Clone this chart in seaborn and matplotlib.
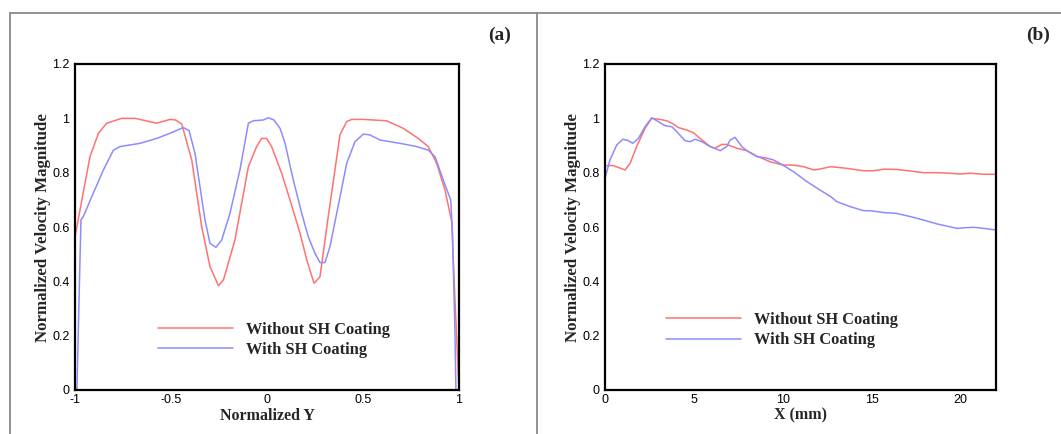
import numpy as np
import pandas as pd
import matplotlib
matplotlib.use("Agg")
import matplotlib.pyplot as plt
import seaborn as sns
from matplotlib.lines import Line2D

# ---------------- data ----------------
a_red_x = [-1.0, -0.922, -0.878, -0.835, -0.757, -0.687, -0.575, -0.505, -0.476, -0.444,
           -0.392, -0.340, -0.297, -0.253, -0.227, -0.167, -0.097, -0.054, -0.028, -0.002,
           0.024, 0.076, 0.12, 0.172, 0.207, 0.245, 0.276, 0.319, 0.380, 0.415, 0.441,
           0.502, 0.623, 0.710, 0.788, 0.840, 0.884, 0.927, 0.962, 0.979, 1.0]
a_red_y = [0.564, 0.859, 0.945, 0.982, 1.0, 1.0, 0.982, 0.996, 0.994, 0.979,
           0.847, 0.601, 0.454, 0.384, 0.405, 0.552, 0.822, 0.896, 0.926, 0.926,
           0.896, 0.798, 0.699, 0.577, 0.479, 0.393, 0.417, 0.638, 0.939, 0.988, 0.996,
           0.996, 0.991, 0.963, 0.926, 0.896, 0.834, 0.736, 0.620, 0.331, 0.0]

a_blue_x = [-0.99, -0.975, -0.969, -0.957, -0.905, -0.852, -0.80, -0.766, -0.661, -0.575,
            -0.505, -0.436, -0.406, -0.375, -0.349, -0.323, -0.297, -0.266, -0.236, -0.193,
            -0.141, -0.097, -0.071, -0.019, 0.007, 0.036, 0.068, 0.094, 0.137, 0.181,
            0.215, 0.25, 0.276, 0.302, 0.328, 0.363, 0.415, 0.458, 0.502, 0.536,
            0.589, 0.693, 0.780, 0.840, 0.875, 0.918, 0.957, 0.966, 0.979, 0.984]
a_blue_y = [0.0, 0.45, 0.626, 0.638, 0.724, 0.810, 0.883, 0.896, 0.908, 0.926,
            0.945, 0.966, 0.955, 0.871, 0.748, 0.626, 0.540, 0.525, 0.552, 0.650,
            0.810, 0.982, 0.991, 0.994, 1.002, 0.994, 0.963, 0.908, 0.773, 0.650,
            0.564, 0.503, 0.469, 0.469, 0.528, 0.650, 0.834, 0.914, 0.942, 0.939,
            0.920, 0.908, 0.896, 0.883, 0.859, 0.773, 0.699, 0.577, 0.209, 0.0]

b_red_x = [0.0, 0.47, 1.13, 1.41, 1.78, 2.25, 2.63, 3.1, 3.47, 3.85, 4.13, 4.6, 4.98,
           5.35, 5.92, 6.2, 6.57, 6.85, 7.42, 7.98, 8.54, 9.3, 10.05, 10.6, 11.17,
           11.74, 12.0, 12.7, 13.6, 14.55, 15.1, 15.7, 16.4, 17.2, 17.9, 18.7, 19.4,
           20.0, 20.56, 21.3, 22.0]
b_red_y = [0.826, 0.826, 0.810, 0.834, 0.896, 0.963, 1.0, 0.996, 0.991, 0.979, 0.966,
           0.957, 0.947, 0.926, 0.896, 0.890, 0.904, 0.904, 0.890, 0.881, 0.861, 0.840,
           0.828, 0.828, 0.822, 0.810, 0.812, 0.822, 0.816, 0.807, 0.807, 0.813, 0.812,
           0.806, 0.800, 0.800, 0.798, 0.795, 0.798, 0.794, 0.794]

b_blue_x = [0.0, 0.28, 0.66, 1.0, 1.31, 1.56, 1.88, 2.25, 2.63, 3.0, 3.38, 3.76, 4.04,
            4.5, 4.79, 5.07, 5.45, 5.92, 6.48, 6.85, 7.04, 7.32, 7.7, 7.98, 8.54, 9.0,
            9.48, 10.05, 10.6, 11.36, 12.1, 12.7, 13.05, 13.8, 14.55, 14.93, 15.7, 16.4,
            17.2, 17.9, 18.7, 19.4, 19.8, 20.2, 20.75, 21.3, 22.0]
b_blue_y = [0.779, 0.847, 0.902, 0.923, 0.918, 0.908, 0.926, 0.969, 1.002, 0.988, 0.973,
            0.969, 0.951, 0.918, 0.914, 0.923, 0.914, 0.896, 0.881, 0.896, 0.920, 0.930,
            0.896, 0.881, 0.859, 0.855, 0.847, 0.826, 0.804, 0.767, 0.736, 0.712, 0.693,
            0.675, 0.660, 0.660, 0.653, 0.650, 0.638, 0.626, 0.611, 0.601, 0.595, 0.597,
            0.599, 0.595, 0.589]

labels = ["Without SH Coating", "With SH Coating"]
panel_titles = ["(a)", "(b)"]
x_labels = ["Normalized Y", "X (mm)"]
y_label = "Normalized Velocity Magnitude"
a_xticks = [-1, -0.5, 0, 0.5, 1]
b_xticks = [0, 5, 10, 15, 20]
yticks = [0, 0.2, 0.4, 0.6, 0.8, 1, 1.2]

# ---------------- style ----------------
sns.set_theme(style="white")
plt.rcParams["font.family"] = ["Liberation Sans", "DejaVu Sans"]
RED = "#ff7272"
BLUE = "#8c8cff"
serif = ["Liberation Serif", "DejaVu Serif"]

W, H = 1061, 434
fig = plt.figure(figsize=(W / 100, H / 100), dpi=100)
fig.patch.set_facecolor("white")

# outer frame lines (gray)
frame_col = "#8a8a8a"
fig.add_artist(Line2D([10 / W, 1.0], [1 - 13 / H, 1 - 13 / H], transform=fig.transFigure, color=frame_col, lw=1.3))
fig.add_artist(Line2D([10 / W, 10 / W], [0, 1 - 13 / H], transform=fig.transFigure, color=frame_col, lw=1.3))
fig.add_artist(Line2D([537 / W, 537 / W], [0, 1 - 13 / H], transform=fig.transFigure, color=frame_col, lw=1.3))

def make_axes(left_px, right_px):
    top_px, bot_px = 64, 390
    return fig.add_axes([left_px / W, 1 - bot_px / H, (right_px - left_px) / W, (bot_px - top_px) / H])

ax_a = make_axes(75, 459)
ax_b = make_axes(605, 996)

df_a = pd.concat([
    pd.DataFrame({"x": a_red_x, "y": a_red_y, "s": labels[0]}),
    pd.DataFrame({"x": a_blue_x, "y": a_blue_y, "s": labels[1]}),
])
df_b = pd.concat([
    pd.DataFrame({"x": b_red_x, "y": b_red_y, "s": labels[0]}),
    pd.DataFrame({"x": b_blue_x, "y": b_blue_y, "s": labels[1]}),
])
pal = {labels[0]: RED, labels[1]: BLUE}

for ax, df, xt, xl, xlim, leg_anchor, title_x, title in [
    (ax_a, df_a, a_xticks, x_labels[0], (-1, 1), (0.216, 0.21), 500, panel_titles[0]),
    (ax_b, df_b, b_xticks, x_labels[1], (0, 22), (0.156, 0.24), 1038, panel_titles[1]),
]:
    sns.lineplot(data=df, x="x", y="y", hue="s", palette=pal, estimator=None, sort=False,
                 linewidth=1.1, ax=ax)
    ax.set_xlim(*xlim)
    ax.set_ylim(0, 1.2)
    ax.set_xticks(xt)
    ax.set_xticklabels([f"{v:g}" for v in xt])
    ax.set_yticks(yticks)
    ax.set_yticklabels([f"{v:g}" for v in yticks])
    ax.tick_params(direction="in", length=7, width=1.6, labelsize=9, colors="black", pad=4)
    ax.tick_params(axis="x", pad=3)
    for sp in ax.spines.values():
        sp.set_visible(True)
        sp.set_color("black")
        sp.set_linewidth(1.6)
    ax.set_xlabel(xl, family=serif, fontweight="bold", fontsize=11.5, labelpad=1)
    ax.set_ylabel(y_label, family=serif, fontweight="bold", fontsize=12.2, labelpad=1)
    ax.legend(loc="upper left", bbox_to_anchor=leg_anchor, frameon=False, handlelength=4.6,
              handletextpad=0.8, labelspacing=0.28, borderpad=0, borderaxespad=0,
              prop={"family": serif, "weight": "bold", "size": 11.8}, title=None)
    for ln in ax.get_legend().get_lines():
        ln.set_linewidth(1.1)
    fig.text(title_x / W, 1 - 35 / H, title,
             ha="center", va="center", family=serif, fontweight="bold", fontsize=14)

fig.savefig("out.png", dpi=100, facecolor="white")
